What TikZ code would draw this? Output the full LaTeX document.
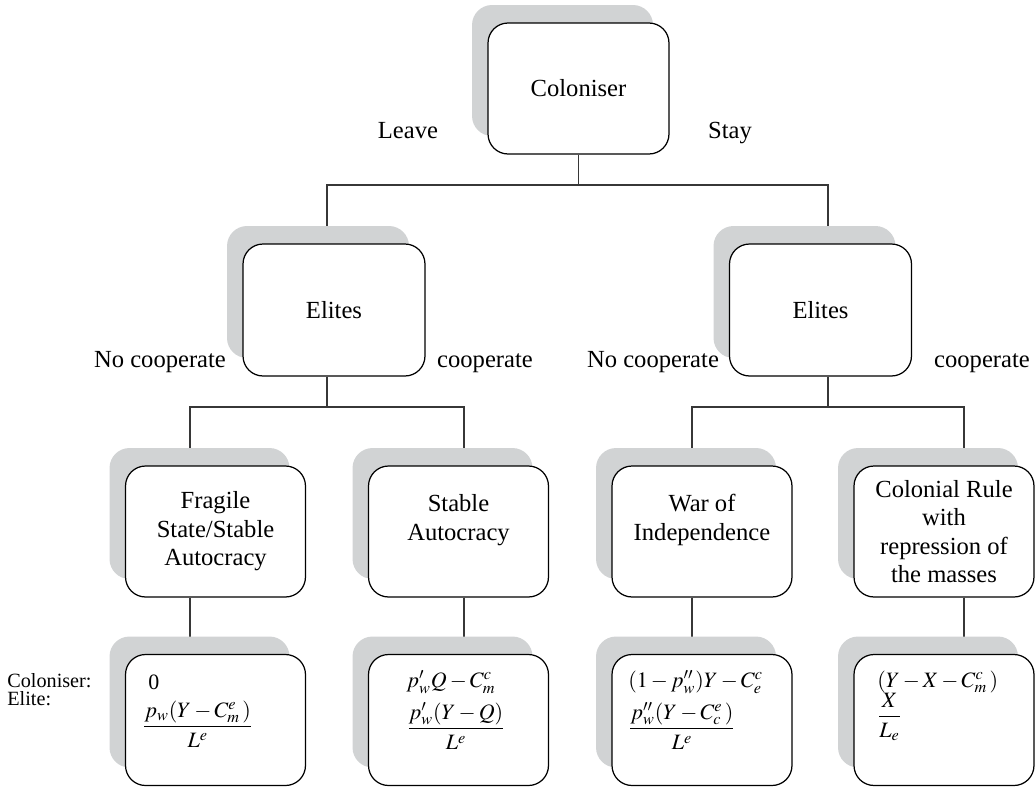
\documentclass[tikz,border=0pt]{standalone}
\usepackage{amsmath}
\usepackage{mathptmx}
\usepackage[no-math]{fontspec}
\setmainfont{Liberation Serif}
\usetikzlibrary{shadows,backgrounds}
\definecolor{shadegray}{RGB}{209,211,212}
\definecolor{linkgray}{RGB}{55,55,55}

\begin{document}
\begin{tikzpicture}[x=0.02cm, y=-0.02cm,
    stage/.style={draw=black, line width=0.7pt, fill=white, rounded corners=0.4cm,
        minimum width=3.6cm, minimum height=2.62cm, inner sep=2pt, align=center,
        font=\fontsize{14}{16.2}\selectfont,
        general shadow={fill=shadegray, shadow xshift=-0.32cm, shadow yshift=0.36cm}},
    choice/.style={font=\fontsize{14}{16.2}\selectfont, inner sep=0pt, anchor=base},
    pay/.style={font=\fontsize{12.5}{14}\selectfont, inner sep=0pt},
    side/.style={font=\fontsize{11.5}{13}\selectfont, inner sep=0pt, anchor=base west},
    link/.style={draw=linkgray, line width=0.7pt}]
    \useasboundingbox (0,0) rectangle (1035,788);

    \node[stage, minimum width=3.62cm] (colon) at (578.5,88.5) {Coloniser};
    \node[stage, minimum width=3.64cm, minimum height=2.64cm] (eliteL) at (334,310) {Elites};
    \node[stage, minimum width=3.64cm, minimum height=2.64cm] (eliteR) at (820.5,310) {Elites};

    \node[stage] (fragile) at (215.5,531.5) {Fragile\\State/Stable\\Autocracy};
    \node[stage] (stable) at (458.5,531.5) {Stable\\Autocracy\\~};
    \node[stage] (war) at (702,531.5) {War of\\Independence\\~};
    \node[stage] (colrule) at (944,531.5) {Colonial Rule\\with\\repression of\\the masses};

    \node[stage, minimum height=2.62cm] (payA) at (215.5,720) {};
    \node[stage, minimum height=2.62cm] (payB) at (458.5,720) {};
    \node[stage, minimum height=2.62cm] (payC) at (702,720) {};
    \node[stage, minimum height=2.62cm] (payD) at (944,720) {};

    \node[choice] (leave) at (408,138) {Leave};
    \node[choice] (stay) at (730,138) {Stay};
    \node[choice] (nocoopL) at (160,367) {No cooperate};
    \node[choice] (coopL) at (485,367) {cooperate};
    \node[choice] (nocoopR) at (653,367) {No cooperate};
    \node[choice] (coopR) at (982,367) {cooperate};

    \node[side] (lblcol) at (7,687) {Coloniser:};
    \node[side] (lblelite) at (7,705) {Elite:};

    \node[pay, anchor=west] (colA) at (148,682) {0};
    \node[pay, anchor=west] (eliteA) at (142,724) {$\dfrac{p_w(Y-C_m^e\,)}{L^e}$};
    \node[pay] (colB) at (451,682) {$p'_wQ-C_m^c$};
    \node[pay] (eliteB) at (456,726) {$\dfrac{p'_w(Y-Q)}{L^e}$};
    \node[pay, anchor=west] (colC) at (628,682) {$(1-p''_w)Y-C_e^c$};
    \node[pay, anchor=west] (eliteC) at (628,726) {$\dfrac{p''_w(Y-C_c^e\,)}{L^e}$};
    \node[pay, anchor=west] (colD) at (877,682) {$(Y-X-C_m^c\,)$};
    \node[pay, anchor=west] (eliteD) at (877,717) {$\dfrac{X}{L_e}$};

    \coordinate (jL) at (327,185);
    \coordinate (jR) at (828,185);
    \coordinate (k1) at (190,407);
    \coordinate (k2) at (464,407);
    \coordinate (k3) at (692,407);
    \coordinate (k4) at (964,407);

    \begin{scope}[on background layer]
        \draw[link] (colon.south) -- (colon.south |- jL);
        \draw[link] (eliteL.north -| jL) |- (jR) -- (eliteR.north -| jR);
        \draw[link] (eliteL.south -| jL) -- (jL |- k1);
        \draw[link] (fragile.north -| k1) |- (k2) -- (stable.north -| k2);
        \draw[link] (eliteR.south -| jR) -- (jR |- k3);
        \draw[link] (war.north -| k3) |- (k4) -- (colrule.north -| k4);
        \draw[link] (fragile.south -| k1) -- (payA.north -| k1);
        \draw[link] (stable.south -| k2) -- (payB.north -| k2);
        \draw[link] (war.south -| k3) -- (payC.north -| k3);
        \draw[link] (colrule.south -| k4) -- (payD.north -| k4);
    \end{scope}
\end{tikzpicture}
\end{document}
